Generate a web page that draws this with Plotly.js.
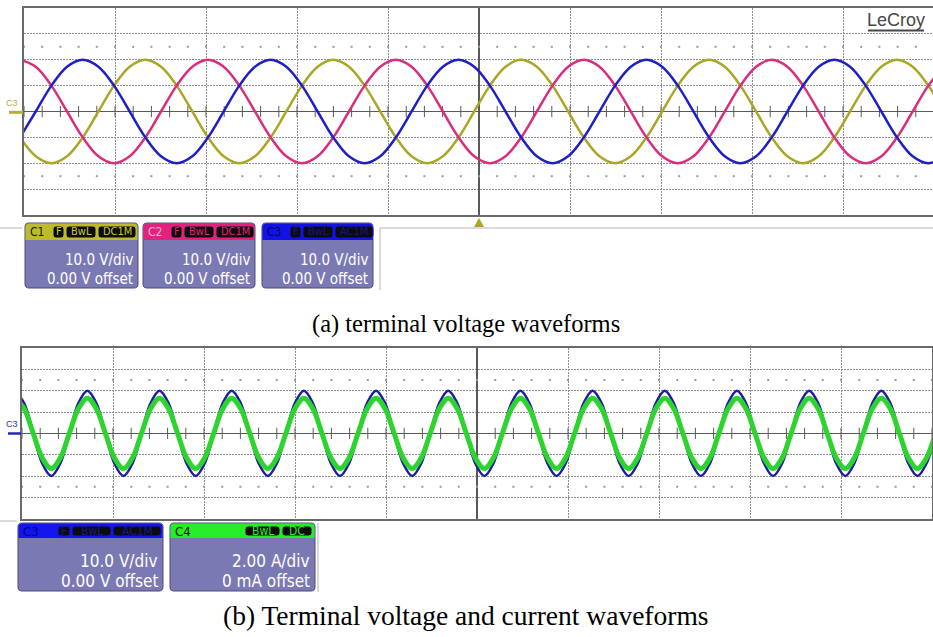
<!DOCTYPE html>
<html><head><meta charset="utf-8">
<script src="https://cdn.plot.ly/plotly-3.0.1.min.js"></script>
<style>html,body{margin:0;padding:0;background:#fff}#chart{width:933px;height:637px}</style>
</head><body><div id="chart"></div>
<script>
// ================= DATA =================
// (a) three phase terminal voltages, sampled every aStep divisions from aStart
const aStart = -5.043, aStep = 0.17208;
const c1Volts = [ // yellow
  -10, -17.3, -20, -17.3, -10, 0, 10, 17.3, 20, 17.3, 10, 0,
  -10, -17.3, -20, -17.3, -10, 0, 10, 17.3, 20, 17.3, 10, 0,
  -10, -17.3, -20, -17.3, -10, 0, 10, 17.3, 20, 17.3, 10, 0,
  -10, -17.3, -20, -17.3, -10, 0, 10, 17.3, 20, 17.3, 10, 0,
  -10, -17.3, -20, -17.3, -10, 0, 10, 17.3, 20, 17.3, 10, 0
];
const c2Volts = [ // pink
  20, 17.3, 10, 0, -10, -17.3, -20, -17.3, -10, 0, 10, 17.3,
  20, 17.3, 10, 0, -10, -17.3, -20, -17.3, -10, 0, 10, 17.3,
  20, 17.3, 10, 0, -10, -17.3, -20, -17.3, -10, 0, 10, 17.3,
  20, 17.3, 10, 0, -10, -17.3, -20, -17.3, -10, 0, 10, 17.3,
  20, 17.3, 10, 0, -10, -17.3, -20, -17.3, -10, 0, 10, 17.3
];
const c3Volts = [ // blue
  -10, 0, 10, 17.3, 20, 17.3, 10, 0, -10, -17.3, -20, -17.3,
  -10, 0, 10, 17.3, 20, 17.3, 10, 0, -10, -17.3, -20, -17.3,
  -10, 0, 10, 17.3, 20, 17.3, 10, 0, -10, -17.3, -20, -17.3,
  -10, 0, 10, 17.3, 20, 17.3, 10, 0, -10, -17.3, -20, -17.3,
  -10, 0, 10, 17.3, 20, 17.3, 10, 0, -10, -17.3, -20, -17.3
];
// (b) terminal voltage (V) and current (A), sampled every bStep divisions from bStart
const bStart = -5.075, bStep = 0.09915;
const c3bVolts = [
  20, 14.1, 0, -14.1, -20, -14.1, 0, 14.1,
  20, 14.1, 0, -14.1, -20, -14.1, 0, 14.1,
  20, 14.1, 0, -14.1, -20, -14.1, 0, 14.1,
  20, 14.1, 0, -14.1, -20, -14.1, 0, 14.1,
  20, 14.1, 0, -14.1, -20, -14.1, 0, 14.1,
  20, 14.1, 0, -14.1, -20, -14.1, 0, 14.1,
  20, 14.1, 0, -14.1, -20, -14.1, 0, 14.1,
  20, 14.1, 0, -14.1, -20, -14.1, 0, 14.1,
  20, 14.1, 0, -14.1, -20, -14.1, 0, 14.1,
  20, 14.1, 0, -14.1, -20, -14.1, 0, 14.1,
  20, 14.1, 0, -14.1, -20, -14.1, 0, 14.1,
  20, 14.1, 0, -14.1, -20, -14.1, 0, 14.1,
  20, 14.1, 0, -14.1, -20, -14.1, 0
];
const c4Amps = [
  3.3, 2.3, 0, -2.3, -3.3, -2.3, 0, 2.3,
  3.3, 2.3, 0, -2.3, -3.3, -2.3, 0, 2.3,
  3.3, 2.3, 0, -2.3, -3.3, -2.3, 0, 2.3,
  3.3, 2.3, 0, -2.3, -3.3, -2.3, 0, 2.3,
  3.3, 2.3, 0, -2.3, -3.3, -2.3, 0, 2.3,
  3.3, 2.3, 0, -2.3, -3.3, -2.3, 0, 2.3,
  3.3, 2.3, 0, -2.3, -3.3, -2.3, 0, 2.3,
  3.3, 2.3, 0, -2.3, -3.3, -2.3, 0, 2.3,
  3.3, 2.3, 0, -2.3, -3.3, -2.3, 0, 2.3,
  3.3, 2.3, 0, -2.3, -3.3, -2.3, 0, 2.3,
  3.3, 2.3, 0, -2.3, -3.3, -2.3, 0, 2.3,
  3.3, 2.3, 0, -2.3, -3.3, -2.3, 0, 2.3,
  3.3, 2.3, 0, -2.3, -3.3, -2.3, 0
];
// texts
const channelsA = ['C1', 'C2', 'C3'];
const tagsA = [['F', 'BwL', 'DC1M'], ['F', 'BwL', 'DC1M'], ['F', 'BwL', 'AC1M']];
const scaleA = ['10.0 V/div', '10.0 V/div', '10.0 V/div'];
const offsetA = ['0.00 V offset', '0.00 V offset', '0.00 V offset'];
const channelsB = ['C3', 'C4'];
const tagsB = [['F', 'BwL', 'AC1M'], ['BwL', 'DC']];
const scaleB = ['10.0 V/div', '2.00 A/div'];
const offsetB = ['0.00 V offset', '0 mA offset'];
const captions = ['(a) terminal voltage waveforms', '(b) Terminal voltage and current waveforms'];
const brand = 'LeCroy';
const markerLabel = 'C3';

// ================= LAYOUT / STYLE =================
const W = 933, H = 637;
const px = x => x / W, py = y => 1 - y / H;
const NARROW = '"Liberation Sans Narrow", "DejaVu Sans Condensed", "Arial Narrow", "Liberation Sans", sans-serif';
const SANS = '"Liberation Sans", Arial, sans-serif';
const SERIF = '"Liberation Serif", "Times New Roman", serif';
const BODY = '#7b79b4';

function rr(x0, y0, x1, y1, r, squareBottom) {
  const P = (x, y) => px(x).toFixed(5) + ',' + py(y).toFixed(5);
  let s = 'M' + P(x0 + r, y0) + ' L' + P(x1 - r, y0) + ' Q' + P(x1, y0) + ' ' + P(x1, y0 + r);
  if (squareBottom) {
    s += ' L' + P(x1, y1) + ' L' + P(x0, y1);
  } else {
    s += ' L' + P(x1, y1 - r) + ' Q' + P(x1, y1) + ' ' + P(x1 - r, y1) +
         ' L' + P(x0 + r, y1) + ' Q' + P(x0, y1) + ' ' + P(x0, y1 - r);
  }
  s += ' L' + P(x0, y0 + r) + ' Q' + P(x0, y0) + ' ' + P(x0 + r, y0) + ' Z';
  return s;
}

const shapes = [], annotations = [];
function line(x0, y0, x1, y1, color, width) {
  shapes.push({type: 'line', xref: 'paper', yref: 'paper', x0: px(x0), y0: py(y0), x1: px(x1), y1: py(y1),
    line: {color: color, width: width}});
}
function text(x, y, t, size, color, family, xa) {
  annotations.push({xref: 'paper', yref: 'paper', x: px(x), y: py(y), text: t, showarrow: false,
    xanchor: xa || 'center', yanchor: 'middle', font: {size: size, color: color, family: family}});
}
function box(b) {
  shapes.push({type: 'path', xref: 'paper', yref: 'paper', path: rr(b.x0, b.y0, b.x1, b.y1, 4, false),
    fillcolor: BODY, line: {color: '#4d4b7a', width: 1}});
  shapes.push({type: 'path', xref: 'paper', yref: 'paper', path: rr(b.x0 + 0.5, b.y0 + 0.5, b.x1 - 0.5, b.yh, 4, true),
    fillcolor: b.hdr, line: {width: 0}});
  text(b.x0 + 3, (b.y0 + b.yh) / 2 + 0.5, b.label, b.hfs + 1, b.labelColor, NARROW, 'left');
  b.tags.forEach((t, i) => {
    const tx = b.tagX[i];
    shapes.push({type: 'path', xref: 'paper', yref: 'paper', path: rr(tx[0], b.y0 + 3, tx[1], b.yh - 2, 3, false),
      fillcolor: '#0c0c0c', line: {color: b.tagBorder, width: 1}});
    text((tx[0] + tx[1]) / 2, (b.y0 + b.yh) / 2 + 0.5, t, b.hfs, b.tagColor, NARROW);
  });
  text(b.x1 - 3, b.t1, b.scale, b.fs, '#ffffff', NARROW, 'right');
  text(b.x1 - 3, b.t2, b.offset, b.fs, '#ffffff', NARROW, 'right');
}

// channel boxes (a)
const boxAX = [[25, 138], [143, 255], [262, 373]];
const hdrA = ['#bdbb2c', '#e2227d', '#1212e4'];
const labA = ['#1a1a00', '#f6b6d4', '#05055a'];
const tagColA = ['#c9c633', '#e2227d', '#15158a'];
channelsA.forEach((c, i) => {
  const x0 = boxAX[i][0];
  box({x0: x0, x1: boxAX[i][1], y0: 223, yh: 240, y1: 288, hdr: hdrA[i], label: c, labelColor: labA[i],
    tags: tagsA[i], tagX: [[x0 + 28, x0 + 39], [x0 + 41, x0 + 71], [x0 + 73, x0 + 111]],
    tagColor: tagColA[i], tagBorder: hdrA[i], scale: scaleA[i], offset: offsetA[i], t1: 260, t2: 279, fs: 15, hfs: 11});
});
// channel boxes (b)
const boxBX = [[18, 163], [170, 315]];
const hdrB = ['#1414ee', '#26ee26'];
const labB = ['#05056a', '#0a0a0a'];
const tagColB = ['#17178e', '#26ee26'];
const tagXB = [[[58, 70], [72, 111], [113, 161]], [[245, 280], [282, 312]]];
channelsB.forEach((c, i) => {
  box({x0: boxBX[i][0], x1: boxBX[i][1], y0: 523, yh: 538, y1: 591, hdr: hdrB[i], label: c, labelColor: labB[i],
    tags: tagsB[i], tagX: tagXB[i], tagColor: tagColB[i], tagBorder: hdrB[i],
    scale: scaleB[i], offset: offsetB[i], t1: 561, t2: 581, fs: 17, hfs: 12});
});

// panel outlines of the scope UI
line(0, 228, 22, 228, '#b4b4b4', 1);
line(380, 228, 933, 228, '#b4b4b4', 1);
line(380, 228, 380, 290, '#b4b4b4', 1);
line(0, 521, 17, 521, '#b4b4b4', 1);
line(318, 523, 318, 592, '#b4b4b4', 1);

// trigger marker
shapes.push({type: 'path', xref: 'paper', yref: 'paper', fillcolor: '#aaa624', line: {width: 0},
  path: 'M' + px(479) + ',' + py(218) + ' L' + px(484) + ',' + py(227) + ' L' + px(474) + ',' + py(227) + ' Z'});

// channel ground markers
text(12, 103, markerLabel, 9, '#b3b034', SANS);
line(9, 112.3, 23, 112.3, '#b3b034', 3);
text(12, 424, markerLabel, 9, '#3030b0', SANS);
line(8, 433.5, 21, 433.5, '#2424b4', 2.5);

// brand
text(896, 20, brand, 18, '#474747', SANS);
line(868, 30.5, 924, 30.5, '#474747', 2);

// captions
text(466, 324, captions[0], 24.5, '#000000', SERIF);
text(466, 615, captions[1], 27.5, '#000000', SERIF);

// ================= TRACES =================
function decor(xa, ya) {
  const tx = [], ty = [], dx = [], dy = [];
  for (let k = -25; k <= 25; k++) { tx.push(k * 0.2); ty.push(0); }
  for (let k = -25; k <= 25; k++) { dx.push(k * 0.2, k * 0.2); dy.push(25, -25); }
  return [
    {type: 'scatter', mode: 'markers', x: tx, y: ty, xaxis: xa, yaxis: ya, hoverinfo: 'skip',
      marker: {symbol: 'line-ns-open', size: 8, color: '#5a5a5a', line: {color: '#5a5a5a', width: 1}}},
    {type: 'scatter', mode: 'markers', x: dx, y: dy, xaxis: xa, yaxis: ya, hoverinfo: 'skip',
      marker: {symbol: 'square', size: 2, color: '#9a9a9a', line: {width: 0}}}
  ];
}
const wave = (y, x0, dx, xa, ya, color, width, name) => ({
  type: 'scatter', mode: 'lines', name: name, y: y, x0: x0, dx: dx, xaxis: xa, yaxis: ya,
  line: {color: color, width: width, shape: 'spline', smoothing: 1}, hoverinfo: 'skip'
});

const traces = [
  ...decor('x', 'y'),
  wave(c1Volts, aStart, aStep, 'x', 'y', '#aaa626', 2.5, 'C1'),
  wave(c2Volts, aStart, aStep, 'x', 'y', '#d92e7c', 2.5, 'C2'),
  wave(c3Volts, aStart, aStep, 'x', 'y', '#1f1fc6', 2.5, 'C3'),
  ...decor('x2', 'y2'),
  wave(c4Amps, bStart, bStep, 'x2', 'y3', '#2ed42e', 5, 'C4'),
  wave(c3bVolts, bStart, bStep, 'x2', 'y2', '#1e1ea2', 2.6, 'C3')
];

const ax = {
  showgrid: true, gridcolor: '#8e8e8e', griddash: '2px,1px', gridwidth: 1,
  zeroline: true, zerolinecolor: '#5a5a5a', zerolinewidth: 1.5,
  showline: true, mirror: true, linecolor: '#6a6a6a', linewidth: 2,
  ticks: '', showticklabels: false, fixedrange: true
};
const layout = {
  width: W, height: H, margin: {l: 0, r: 0, t: 0, b: 0},
  paper_bgcolor: '#ffffff', plot_bgcolor: '#ffffff', showlegend: false,
  xaxis: {...ax, domain: [24 / W, 1], range: [-5, 4.989], tick0: 0, dtick: 1, anchor: 'y'},
  yaxis: {...ax, domain: [py(215), py(8)], range: [-40, 40], tick0: 0, dtick: 10, anchor: 'x'},
  xaxis2: {...ax, domain: [22 / W, 932 / W], range: [-5, 5], tick0: 0, dtick: 1, anchor: 'y2'},
  yaxis2: {...ax, domain: [py(518.7), py(348)], range: [-40, 40], tick0: 0, dtick: 10, anchor: 'x2'},
  yaxis3: {overlaying: 'y2', anchor: 'x2', range: [-8, 8], visible: false, fixedrange: true},
  shapes: shapes, annotations: annotations
};
Plotly.newPlot('chart', traces, layout, {displayModeBar: false, staticPlot: true});
</script>
</body></html>
